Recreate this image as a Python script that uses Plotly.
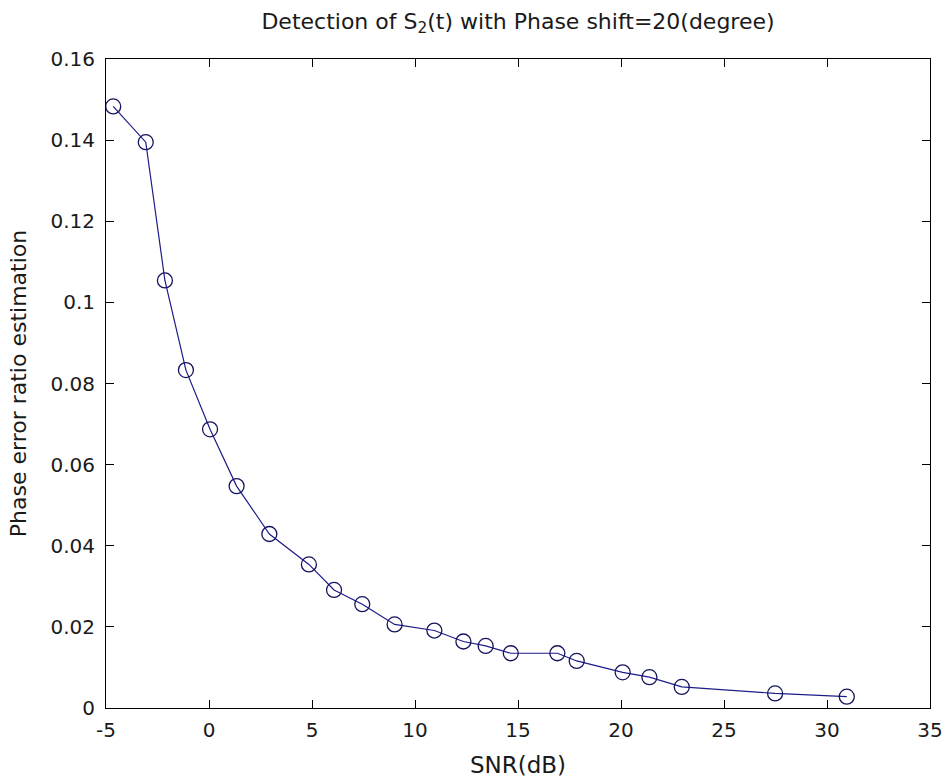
import plotly.graph_objects as go

# SNR values (dB) and estimated phase error ratio
snr_db = [-4.65, -3.07, -2.14, -1.12, 0.05, 1.34, 2.93, 4.85, 6.07, 7.44, 9.01,
          10.94, 12.35, 13.43, 14.65, 16.91, 17.85, 20.08, 21.38, 22.95, 27.48, 30.96]
phase_err = [0.1483, 0.1395, 0.1054, 0.0833, 0.0687, 0.0547, 0.0429, 0.0354, 0.0291,
             0.0256, 0.0206, 0.0191, 0.0164, 0.0153, 0.0135, 0.0135, 0.0116, 0.0088,
             0.0076, 0.0052, 0.0036, 0.0028]

x_ticks = [-5, 0, 5, 10, 15, 20, 25, 30, 35]
x_tick_text = ["-5", "0", "5", "10", "15", "20", "25", "30", "35"]
y_ticks = [0, 0.02, 0.04, 0.06, 0.08, 0.1, 0.12, 0.14, 0.16]
y_tick_text = ["0", "0.02", "0.04", "0.06", "0.08", "0.1", "0.12", "0.14", "0.16"]

FONT = "DejaVu Sans, Verdana, sans-serif"
TEXT = "#1a1a1a"
LINE = "#1c1c8a"

fig = go.Figure()
fig.add_trace(go.Scatter(
    x=snr_db, y=phase_err, mode="lines+markers",
    line=dict(color=LINE, width=1.2),
    marker=dict(symbol="circle-open", size=15, color="#14145e", line=dict(width=1.3)),
    showlegend=False,
))

axis_common = dict(
    showline=True, linecolor="black", linewidth=1, mirror="ticks",
    ticks="inside", ticklen=8, tickcolor="black", tickwidth=1,
    showgrid=False, zeroline=False, automargin=False,
    tickfont=dict(family=FONT, size=20, color=TEXT),
)

W, H = 947, 778
fig.update_layout(
    width=W, height=H,
    margin=dict(l=106, r=17, t=59, b=70),
    paper_bgcolor="white", plot_bgcolor="white",
    # title centred over the plotting area
    title=dict(text="Detection of S<sub>2</sub>(t) with Phase shift=20(degree)",
               x=518 / W, xref="container", xanchor="center",
               y=1 - 21 / H, yref="container", yanchor="middle",
               font=dict(family=FONT, size=22, color=TEXT)),
    xaxis=dict(range=[-5, 35], tickvals=x_ticks, ticktext=x_tick_text,
               ticklabelstandoff=4,
               title=dict(text="SNR(dB)", standoff=18,
                          font=dict(family=FONT, size=23, color=TEXT)),
               **axis_common),
    yaxis=dict(range=[0, 0.16], tickvals=y_ticks, ticktext=y_tick_text,
               ticklabelstandoff=6,
               title=dict(text="Phase error ratio estimation", standoff=17,
                          font=dict(family=FONT, size=22, color=TEXT)),
               **axis_common),
)

fig.write_html("out.html")
